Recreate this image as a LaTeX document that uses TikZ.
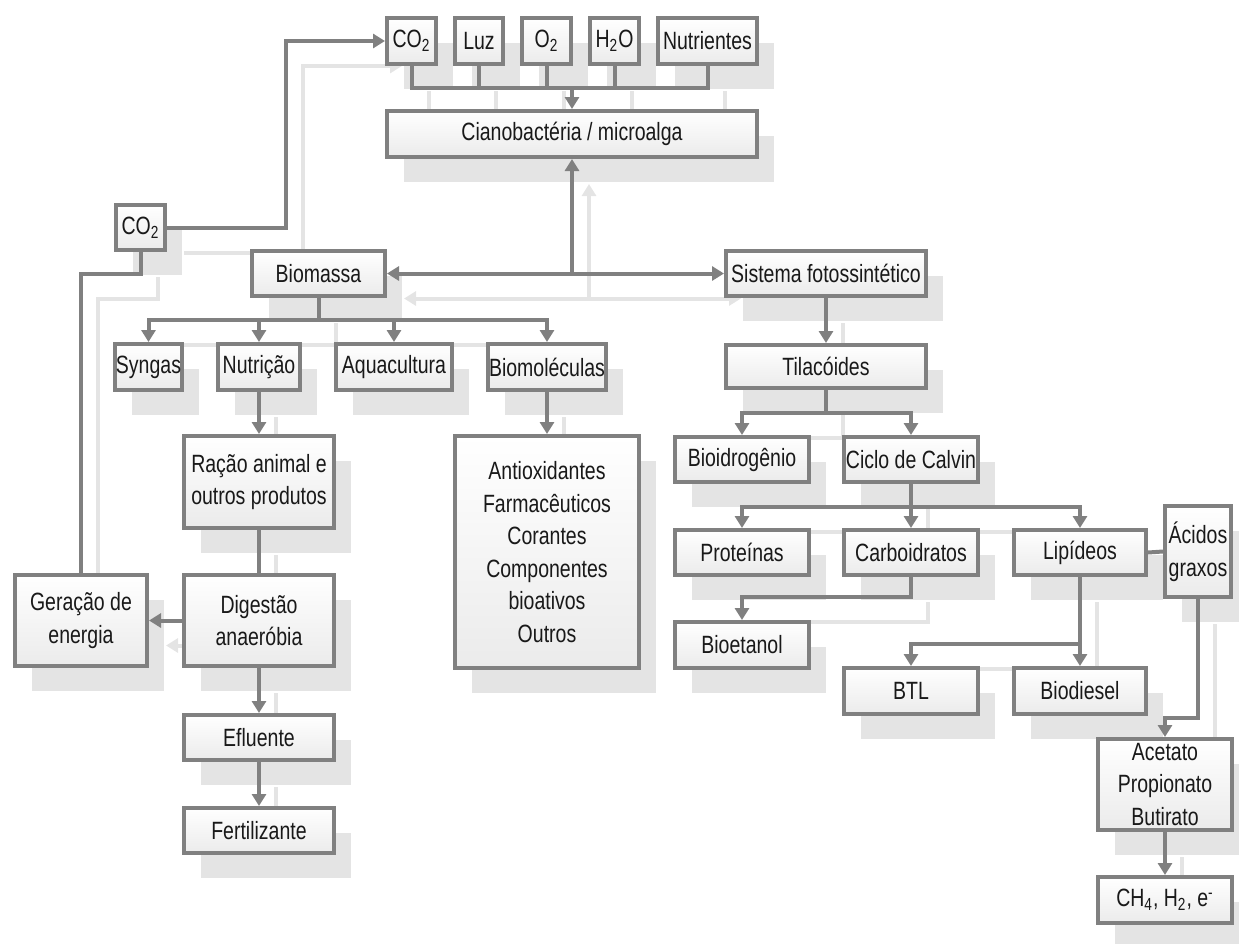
\documentclass[tikz,border=0pt]{standalone}
\usepackage{fontspec}
\setmainfont{Liberation Sans}[FakeStretch=0.78]
\usetikzlibrary{arrows.meta,positioning,shadows}
\definecolor{linkgray}{HTML}{808080}
\definecolor{shadegray}{HTML}{E4E4E4}
\definecolor{fillgray}{HTML}{EBEBEB}
\pgfdeclarelayer{background}
\pgfsetlayers{background,main}
\tikzset{
    box/.style={rectangle,draw=linkgray,line width=2pt,top color=white,bottom color=fillgray,
        text=black!90,align=center,inner sep=0.5pt,font=\fontsize{12.5}{16.3}\selectfont,
        drop shadow={shadow xshift=8.5pt,shadow yshift=-12.5pt,fill=shadegray,opacity=1,rounded corners=1.5pt}},
    link/.style={line width=2pt,color=linkgray},
    pre/.style={link,-{Triangle[length=6pt,width=7pt]}},
    prepost/.style={link,{Triangle[length=6pt,width=7pt]}-{Triangle[length=6pt,width=7pt]}}
}
% all connectors, drawn once as shadow and once for real
\newcommand{\flowlinks}{
    \draw[pre] (left co2.east) -- ++(119,0) |- (top co2.west);
    \foreach \n in {top co2,luz,o2,h2o,nutrientes}
        \draw[link] (\n.south) |- (top bus);
    \draw[pre] (top bus) -- (cianobacteria.north);
    \draw[prepost] (biomassa.east) -- (sistema.west);
    \draw[pre] (cianobacteria.south |- biomassa.east) -- (cianobacteria.south);
    \draw[link] (left co2.south) |- (geracao.north |- biomassa.east) -- (geracao.north);
    \foreach \n in {syngas,nutricao,aquacultura,biomoleculas}
        \draw[pre] (biomassa.south) -- (bio bus) -| (\n.north);
    \draw[pre] (nutricao.south) -- (racao.north);
    \draw[link] (racao.south) -- (digestao.north);
    \draw[pre] (digestao.west) -- (geracao.east);
    \draw[pre] (digestao.south) -- (efluente.north);
    \draw[pre] (efluente.south) -- (fertilizante.north);
    \draw[pre] (biomoleculas.south) -- (antiox.north);
    \draw[pre] (sistema.south) -- (tilacoides.north);
    \foreach \n in {bioidrogenio,ciclo}
        \draw[pre] (tilacoides.south) -- (tila bus) -| (\n.north);
    \foreach \n in {proteinas,carboidratos,lipideos}
        \draw[pre] (ciclo.south) -- (calvin bus) -| (\n.north);
    \draw[pre] (carboidratos.south) -- (carb bend) -| (bioetanol.north);
    \foreach \n in {btl,biodiesel}
        \draw[pre] (lipideos.south) -- (lip bus) -| (\n.north);
    \draw[link] (lipideos.east) -- (acidos.west);
    \draw[pre] (acidos.south) -- (acid bend) -| (acetato.north);
    \draw[pre] (acetato.south) -- (ch4.north);
}

\begin{document}
\begin{tikzpicture}[x=0.5pt,y=-0.5pt]
    \useasboundingbox (0,0) rectangle (1239,944);

    % entradas
    \node[box,minimum width=24.5pt,minimum height=23pt] (top co2) at (411.5,41) {CO\textsubscript{2}};
    \node[box,minimum width=24pt,minimum height=23pt] (luz) [right=7.5pt of top co2] {Luz};
    \node[box,minimum width=24.5pt,minimum height=23pt] (o2) [right=7.5pt of luz] {O\textsubscript{2}};
    \node[box,minimum width=24.5pt,minimum height=23pt] (h2o) [right=7.5pt of o2] {H\textsubscript{2}O};
    \node[box,minimum width=49.5pt,minimum height=23pt] (nutrientes) [right=7.5pt of h2o] {Nutrientes};
    \node[box,minimum width=185pt,minimum height=23pt] (cianobacteria) at (572,134) {Cianobactéria / microalga};

    \node[box,minimum width=24.5pt,minimum height=22.5pt] (left co2) at (140.5,227.5) {CO\textsubscript{2}};
    \node[box,minimum width=66.5pt,minimum height=22.5pt] (biomassa) at (318.5,273.5) {Biomassa};
    \node[box,minimum width=100pt,minimum height=22.5pt] (sistema) at (826,273.5) {Sistema fotossintético};

    % ramo da biomassa
    \node[box,minimum width=32.5pt,minimum height=23pt] (syngas) at (148.5,367) {Syngas};
    \node[box,minimum width=41pt,minimum height=23pt] (nutricao) at (259,367) {Nutrição};
    \node[box,minimum width=58pt,minimum height=23pt] (aquacultura) at (394,367) {Aquacultura};
    \node[box,minimum width=58pt,minimum height=23pt] (biomoleculas) at (547,367) {Biomoléculas};
    \node[box,minimum width=75pt,minimum height=46pt] (racao) at (259,482) {Ração animal e\\outros produtos};
    \node[box,minimum width=92pt,minimum height=116pt] (antiox) at (547,552) {Antioxidantes\\Farmacêuticos\\Corantes\\Componentes\\bioativos\\Outros};
    \node[box,minimum width=66pt,minimum height=45.5pt] (geracao) at (81,620.5) {Geração de\\energia};
    \node[box,minimum width=75pt,minimum height=45.5pt] (digestao) at (259,620.5) {Digestão\\anaeróbia};
    \node[box,minimum width=75pt,minimum height=22.5pt] (efluente) [below=22.5pt of digestao] {Efluente};
    \node[box,minimum width=75pt,minimum height=22.5pt] (fertilizante) [below=22pt of efluente] {Fertilizante};

    % ramo fotossintetico
    \node[box,minimum width=100pt,minimum height=21.5pt] (tilacoides) at (826,366.5) {Tilacóides};
    \node[box,minimum width=67pt,minimum height=22.5pt] (bioidrogenio) at (742,459.5) {Bioidrogênio};
    \node[box,minimum width=67pt,minimum height=22.5pt] (ciclo) at (911,459.5) {Ciclo de Calvin};
    \node[box,minimum width=67pt,minimum height=22.5pt] (proteinas) at (742,552.5) {Proteínas};
    \node[box,minimum width=67pt,minimum height=22.5pt] (carboidratos) at (911,552.5) {Carboidratos};
    \node[box,minimum width=66pt,minimum height=22.5pt] (lipideos) at (1080,552.5) {Lipídeos};
    \node[box,minimum width=33pt,minimum height=45.5pt] (acidos) at (1198,551.5) {Ácidos\\graxos};
    \node[box,minimum width=67pt,minimum height=23pt] (bioetanol) at (742,645) {Bioetanol};
    \node[box,minimum width=67pt,minimum height=23pt] (btl) at (911,691) {BTL};
    \node[box,minimum width=66pt,minimum height=23pt] (biodiesel) at (1080,691) {Biodiesel};
    \node[box,minimum width=67pt,minimum height=45.5pt] (acetato) at (1165,784.5) {Acetato\\Propionato\\Butirato};
    \node[box,minimum width=67pt,minimum height=23pt] (ch4) [below=21.5pt of acetato] {CH\textsubscript{4}, H\textsubscript{2}, e\textsuperscript{-}};

    % pontos de ramificacao
    \coordinate (top bus) at (572,88);
    \coordinate (bio bus) at (318.5,320);
    \coordinate (tila bus) at (826,413);
    \coordinate (calvin bus) at (911,507);
    \coordinate (carb bend) at (911,597);
    \coordinate (lip bus) at (1080,644);
    \coordinate (acid bend) at (1198,718);

    \begin{pgfonlayer}{background}
        \begin{scope}[transform canvas={shift={(17,25)}},link/.style={line width=2pt,color=shadegray}]
            \flowlinks
        \end{scope}
    \end{pgfonlayer}
    \flowlinks

\end{tikzpicture}
\end{document}
